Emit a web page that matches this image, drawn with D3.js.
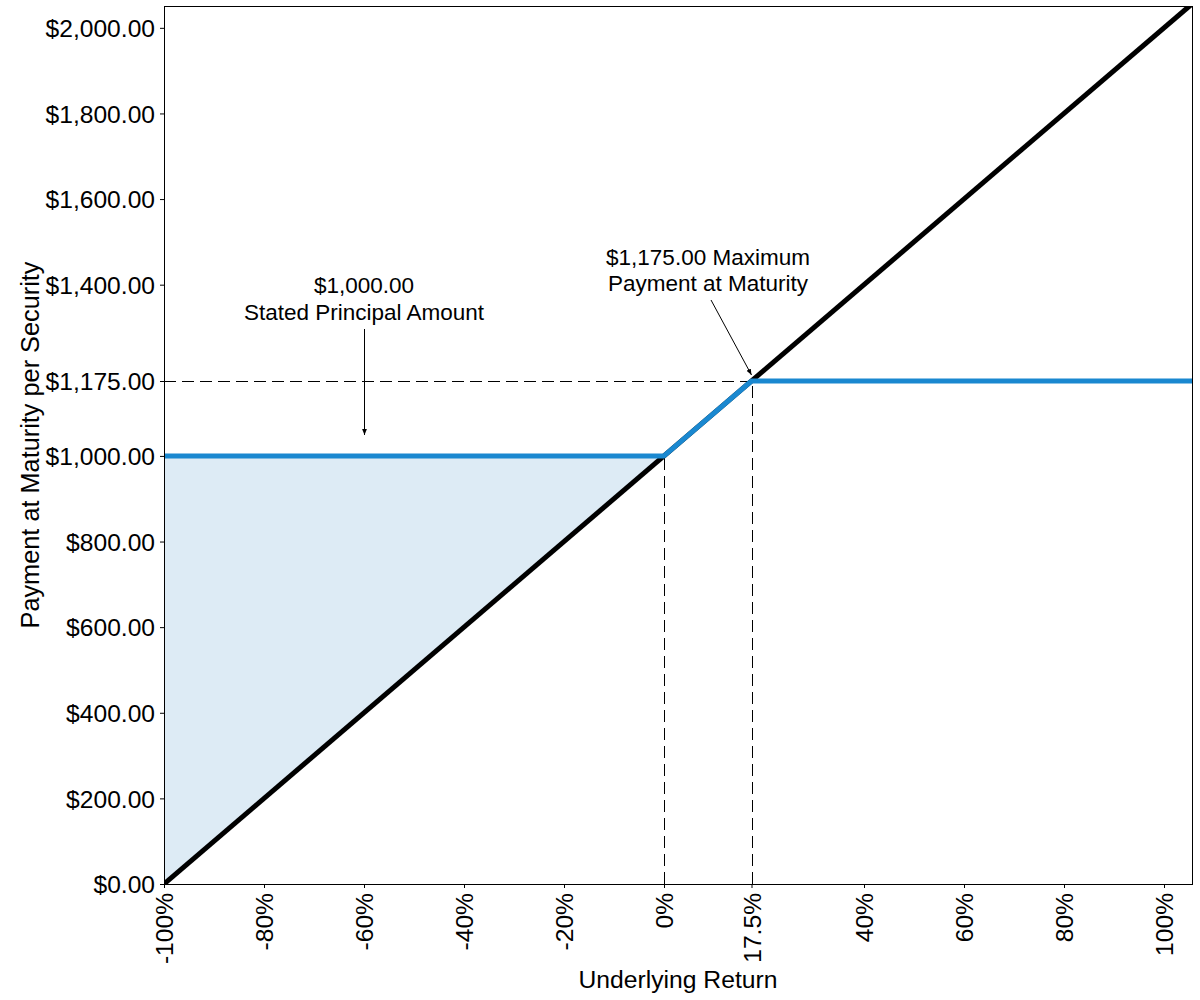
<!DOCTYPE html>
<html><head><meta charset="utf-8">
<script src="https://cdn.jsdelivr.net/npm/d3@7"></script>
<style>body{margin:0;background:#fff}svg{display:block}text{font-family:"Liberation Sans",Arial,sans-serif}</style>
</head><body>
<svg id="c" width="1200" height="1000"></svg>
<script>
const xTicks = [-100, -80, -60, -40, -20, 0, 17.5, 40, 60, 80, 100];
const yTicks = [0, 200, 400, 600, 800, 1000, 1175, 1400, 1600, 1800, 2000];
const underlyingX = [-100, 105.6];
const underlyingY = [0, 2056];
const notesX = [-100, 0, 17.5, 105.6];
const notesY = [1000, 1000, 1175, 1175];
const principal = 1000;
const maxPayment = 1175;
const capReturn = 17.5;

const svg = d3.select("#c");
const m = {l:164, r:1192, t:6, b:884};
const x = d3.scaleLinear().domain([-100, 105.6]).range([m.l, m.r]);
const y = d3.scaleLinear().domain([0, 2051]).range([m.b, m.t]);

svg.append("clipPath").attr("id","clip").append("rect")
  .attr("x",m.l).attr("y",m.t).attr("width",m.r-m.l).attr("height",m.b-m.t);
const g = svg.append("g").attr("clip-path","url(#clip)");

// shaded area between principal and underlying for returns < 0
const areaData = [-100, 0].map(r => ({r, lo: 1000*(1+r/100), hi: principal}));
g.append("path").datum(areaData)
  .attr("d", d3.area().x(d=>x(d.r)).y0(d=>y(d.lo)).y1(d=>y(d.hi)))
  .attr("fill","#ddebf5");

// dashed reference lines
const dash = "12,6";
const px = v => Math.round(v) + 0.5;
g.append("line").attr("x1",x(-100)).attr("x2",x(capReturn)).attr("y1",px(y(maxPayment))).attr("y2",px(y(maxPayment)))
  .attr("stroke","#000").attr("stroke-width",1).attr("stroke-dasharray",dash);
g.append("line").attr("x1",px(x(0))).attr("x2",px(x(0))).attr("y1",y(0)).attr("y2",y(principal))
  .attr("stroke","#000").attr("stroke-width",1).attr("stroke-dasharray",dash);
g.append("line").attr("x1",px(x(capReturn))).attr("x2",px(x(capReturn))).attr("y1",y(0)).attr("y2",y(maxPayment))
  .attr("stroke","#000").attr("stroke-width",1).attr("stroke-dasharray",dash);

const line = d3.line().x(d=>x(d[0])).y(d=>y(d[1]));
g.append("path").datum(d3.zip(underlyingX, underlyingY)).attr("d", line)
  .attr("fill","none").attr("stroke","#000").attr("stroke-width",5);
g.append("path").datum(d3.zip(notesX, notesY)).attr("d", line)
  .attr("fill","none").attr("stroke","#1a88d0").attr("stroke-width",5).attr("stroke-linejoin","round");

// frame
svg.append("rect").attr("x",m.l+0.5).attr("y",m.t+0.5).attr("width",m.r-m.l).attr("height",m.b-m.t)
  .attr("fill","none").attr("stroke","#000").attr("stroke-width",1);

// axes
const fmtY = d => "$" + d3.format(",.2f")(d);
const yAx = svg.append("g").attr("transform",`translate(${m.l},0)`)
  .call(d3.axisLeft(y).tickValues(yTicks).tickFormat(fmtY).tickSize(4).tickPadding(5));
yAx.select(".domain").remove();
yAx.selectAll("text").attr("font-size",24.6).attr("fill","#000").attr("dy","0.35em");

const xAx = svg.append("g").attr("transform",`translate(0,${m.b})`)
  .call(d3.axisBottom(x).tickValues(xTicks).tickFormat(d=>d+"%").tickSize(4).tickPadding(0));
xAx.select(".domain").remove();
xAx.selectAll("text").attr("font-size",24.6).attr("fill","#000")
  .attr("transform","rotate(-90)").attr("text-anchor","end")
  .attr("x",-9).attr("y",0).attr("dy","0.35em");

svg.append("text").attr("x",(m.l+m.r)/2).attr("y",988).attr("text-anchor","middle")
  .attr("font-size",24.7).text("Underlying Return");
svg.append("text").attr("transform",`translate(39,${(m.t+m.b)/2}) rotate(-90)`).attr("text-anchor","middle")
  .attr("font-size",25.3).text("Payment at Maturity per Security");

// annotations
svg.append("defs").append("marker").attr("id","arr").attr("viewBox","0 0 10 10")
  .attr("refX",10).attr("refY",5).attr("markerWidth",6).attr("markerHeight",6).attr("orient","auto")
  .append("path").attr("d","M0,1 L10,5 L0,9 Z").attr("fill","#000");

const a1 = svg.append("text").attr("text-anchor","middle").attr("font-size",22.5);
a1.append("tspan").attr("x",x(-60)).attr("y",293).text("$1,000.00");
a1.append("tspan").attr("x",x(-60)).attr("y",320).text("Stated Principal Amount");
svg.append("line").attr("x1",x(-60)+0.5).attr("x2",x(-60)+0.5).attr("y1",329).attr("y2",435)
  .attr("stroke","#000").attr("stroke-width",1).attr("marker-end","url(#arr)");

const a2 = svg.append("text").attr("text-anchor","middle").attr("font-size",22.5);
a2.append("tspan").attr("x",708).attr("y",265).text("$1,175.00 Maximum");
a2.append("tspan").attr("x",708).attr("y",291).text("Payment at Maturity");
svg.append("line").attr("x1",711).attr("y1",300).attr("x2",x(capReturn)).attr("y2",y(maxPayment)-6)
  .attr("stroke","#000").attr("stroke-width",1).attr("marker-end","url(#arr)");
</script>
</body></html>
